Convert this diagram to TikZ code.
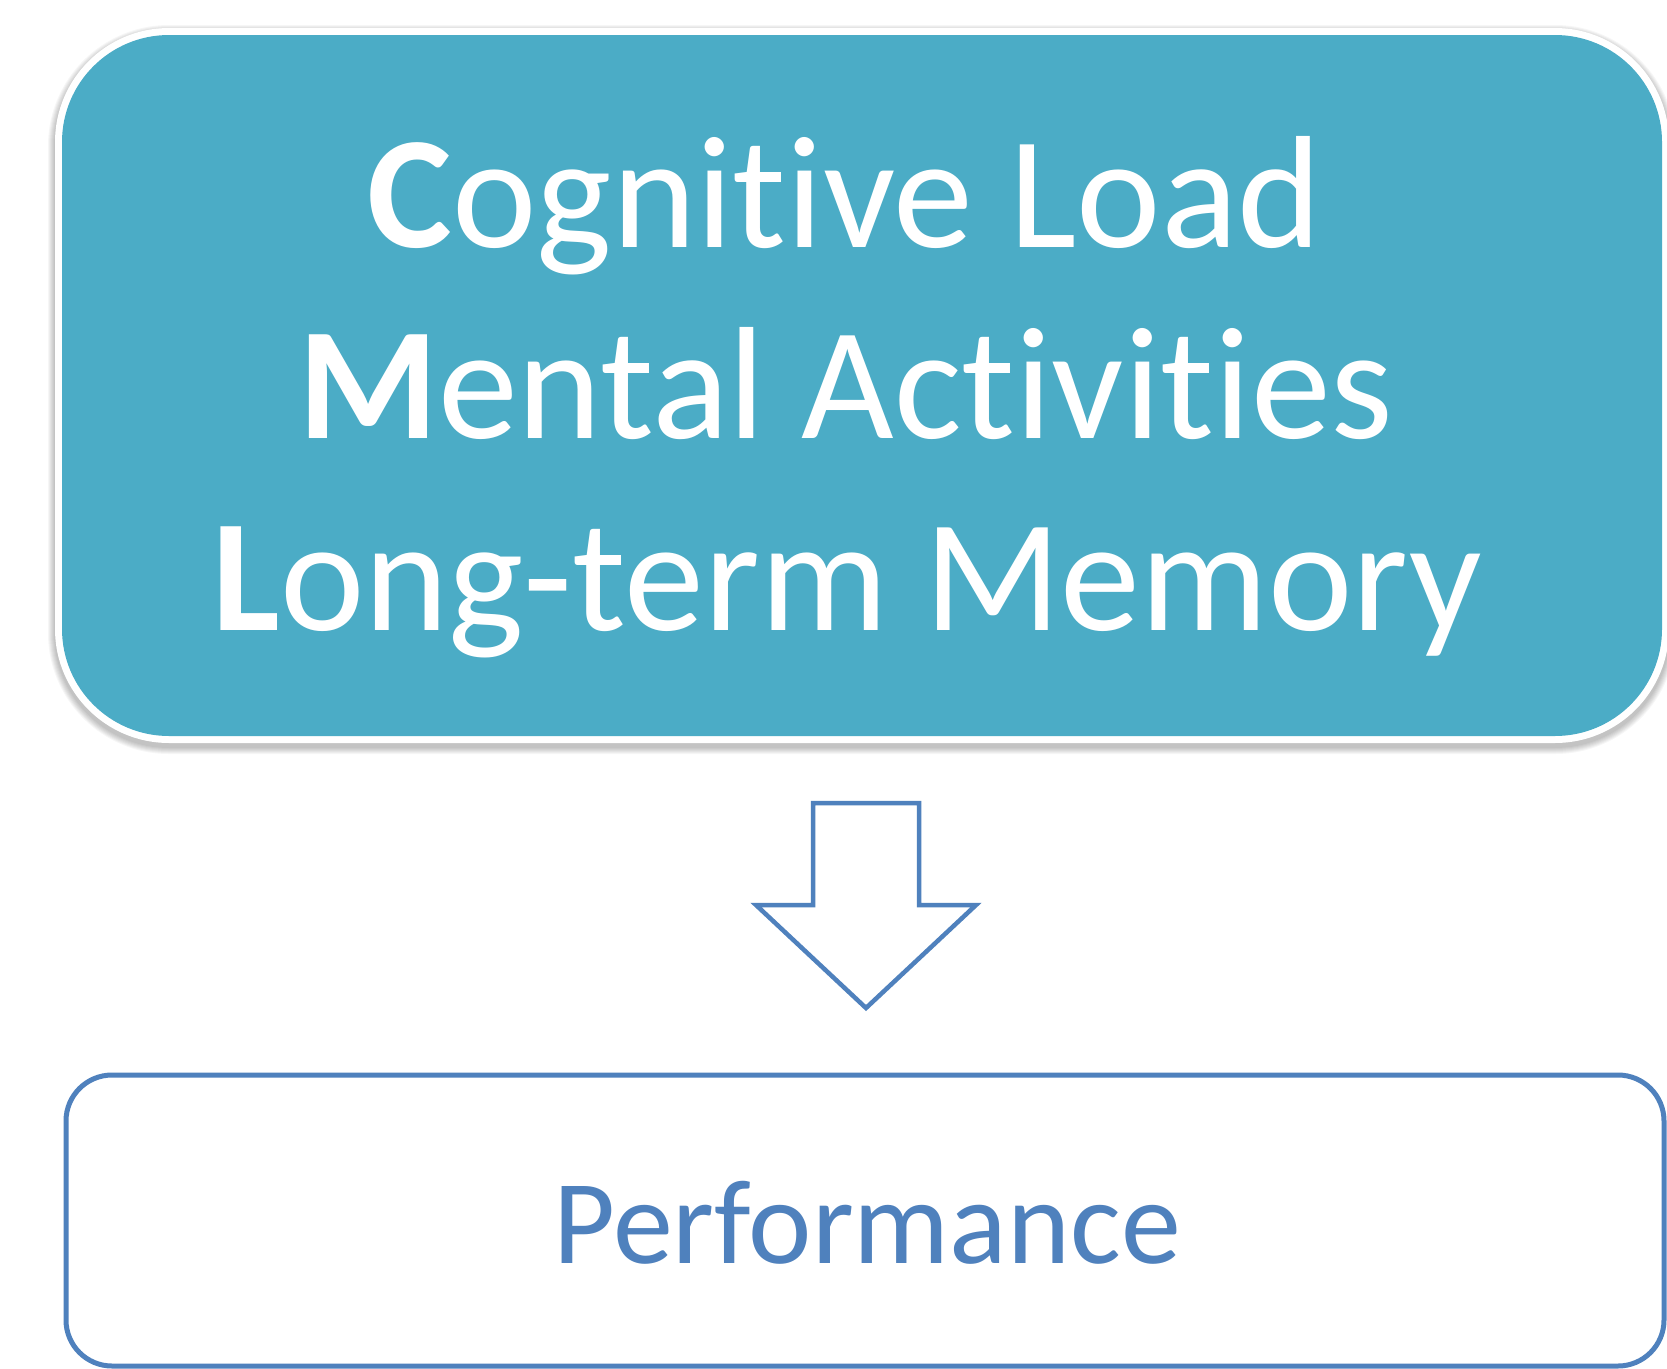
\documentclass[tikz,border=0pt]{standalone}
\usepackage{fontspec}
\setmainfont[Ligatures=NoCommon,RawFeature={-liga;-dlig;-clig}]{Carlito}
\definecolor{teal5}{HTML}{4BACC6}
\definecolor{blue1}{HTML}{4F81BD}
\begin{document}
\begin{tikzpicture}[x=1pt,y=-1pt,
  toptext/.style={text=white,inner sep=0pt,anchor=base,font=\fontsize{160}{192}\selectfont},
  perftext/.style={text=blue1,inner sep=0pt,anchor=base,font=\fontsize{120}{144}\selectfont},
  arrowshape/.style={draw=blue1,line width=4.5pt,fill=white,line join=miter},
  perfbox/.style={draw=blue1,line width=5pt,fill=white,rounded corners=46pt}]
\useasboundingbox (0,0) rectangle (1667,1368);
\fill[white] (0,0) rectangle (1667,1368);
% shadow of the top box
\foreach \i in {1,...,7}{
  \fill[black,opacity=0.035,rounded corners={114pt+\i pt}]
    (55-\i,28-\i+4) rectangle (1669+\i,743+\i+4);
}
% white border and teal fill
\fill[white,rounded corners=114pt] (55,28) rectangle (1669,743);
\fill[teal5,rounded corners=107pt] (62,35) rectangle (1662,736);
\coordinate (top) at (862,385);
\node[toptext] (l1) at (845,247) {\textbf{C}ognitive Load};
\node[toptext] (l2) at (846,438) {\textbf{M}ental Activities};
\node[toptext] (l3) at (847,630) {\textbf{L}ong-term Memory};
% block arrow
\draw[arrowshape] (813,803) -- (919,803) -- (919,905) -- (976,905) -- (866,1008)
  -- (756,905) -- (813,905) -- cycle;
% bottom box
\draw[perfbox] (66,1075) rectangle (1664,1366);
\node[perftext] (perf) at (867,1263) {Performance};
\end{tikzpicture}
\end{document}
